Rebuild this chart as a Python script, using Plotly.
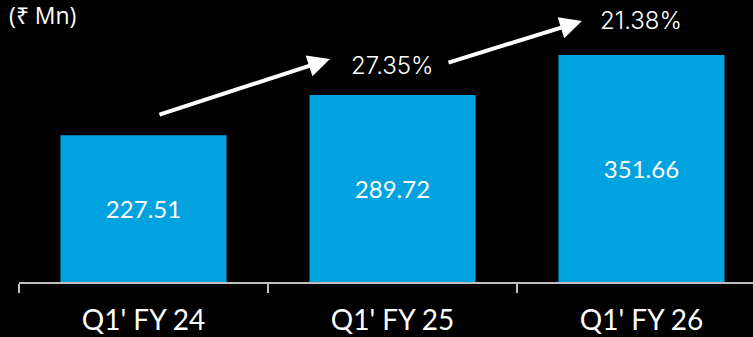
import plotly.graph_objects as go

categories = ["Q1' FY 24", "Q1' FY 25", "Q1' FY 26"]
revenue = [227.51, 289.72, 351.66]
growth_labels = ["27.35%", "21.38%"]
unit_label = "(₹ Mn)"

BAR = "#00A3E0"
AXIS = "#BFBFBF"

fig = go.Figure()
fig.add_trace(go.Bar(
    x=categories, y=revenue,
    width=0.667,
    marker=dict(color=BAR, line=dict(width=0)),
    text=[f"{v:.2f}" for v in revenue],
    textposition="inside", insidetextanchor="middle",
    textangle=0, constraintext="none",
    textfont=dict(family="Lato", size=24, color="white"),
    hoverinfo="skip", cliponaxis=False,
))

# growth arrows between bars (index positions on category axis)
arrows = [((0.058, 258.7), (0.749, 345.5)), ((1.219, 339.3), (1.761, 404.3))]
for (tx, ty), (hx, hy) in arrows:
    fig.add_annotation(x=hx, y=hy, ax=tx, ay=ty, xref="x", yref="y",
                       axref="x", ayref="y", text="", showarrow=True,
                       arrowhead=2, arrowsize=1.1, arrowwidth=4,
                       arrowcolor="white")

for i, g in enumerate(growth_labels):
    fig.add_annotation(x=i + 1, y=revenue[i + 1] + 46 + 8 * i, xref="x", yref="y",
                       text=g, showarrow=False,
                       font=dict(family="Inter", size=24, color="white", weight=300))

fig.add_annotation(x=-0.016, y=0.947, xref="paper", yref="paper",
                   xanchor="left", yanchor="middle", text=unit_label,
                   showarrow=False,
                   font=dict(family="Open Sans", size=23, color="white"))

fig.update_layout(
    width=753, height=337,
    margin=dict(l=19, r=0, t=0, b=55),
    paper_bgcolor="black", plot_bgcolor="black",
    showlegend=False,
    xaxis=dict(type="category", range=[-0.5, 2.448], tickson="boundaries",
               ticks="outside", ticklen=9, tickwidth=2, tickcolor=AXIS,
               showline=True, linecolor=AXIS, linewidth=2,
               showgrid=False, zeroline=False, ticklabelstandoff=12,
               tickfont=dict(family="Lato", size=28, color="white")),
    yaxis=dict(range=[0, 437], visible=False, showgrid=False, zeroline=False),
)

fig.write_html("out.html", config={"displayModeBar": False},
               post_script="document.body.style.margin='0';document.body.style.background='black';")
